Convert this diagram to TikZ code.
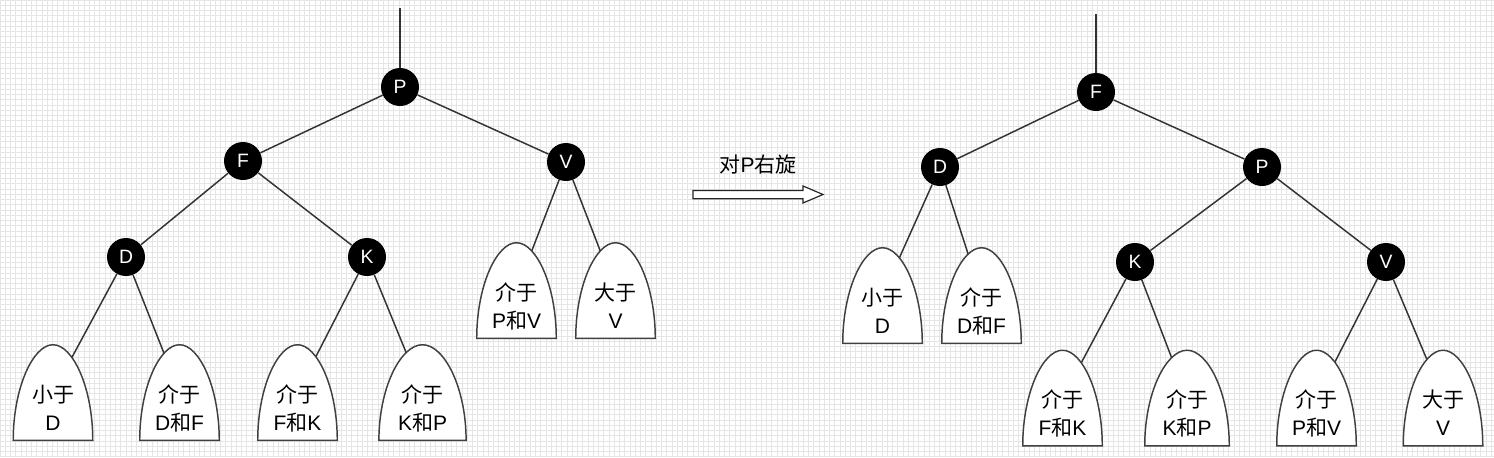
\documentclass[tikz,border=0pt]{standalone}
\usepackage{fontspec}
\setmainfont{Liberation Sans}
\newfontfamily\cjk{Noto Sans CJK SC}
\usetikzlibrary{calc}

\pgfdeclarelayer{grid}
\pgfdeclarelayer{edges}
\pgfdeclarelayer{arches}
\pgfsetlayers{grid,edges,arches,main}

\tikzset{
	keynode/.style={circle,fill=black,text=white,minimum size=28.5pt,inner sep=0pt,
		font=\fontsize{14.5pt}{17pt}\selectfont},
	leafnode/.style={minimum width=59.25pt,minimum height=71.25pt,inner sep=0pt,align=center,
		text height=56.25pt,text depth=0pt,font=\fontsize{15.75pt}{21pt}\selectfont},
	treeline/.style={draw=black!80,line width=1.1pt},
	leafline/.style={draw=black!75,fill=white,line width=1.1pt},
	gridline/.style={draw=black!10,line width=0.4pt},
	blockarrow/.style={draw=black!85,fill=white,line width=0.9pt,line join=miter},
}

\begin{document}
\begin{tikzpicture}[x=0.75pt,y=-0.75pt]
\useasboundingbox (0,0) rectangle (1494,457);
\begin{pgfonlayer}{grid}
\fill[white] (0,0) rectangle (1494,457);
\foreach \gx in {0,5.25,...,1494} \draw[gridline] (\gx,0) -- (\gx,457);
\foreach \gy in {0,5.25,...,457} \draw[gridline] (0,\gy) -- (1494,\gy);
\end{pgfonlayer}

% before
\coordinate (ltop) at (400,8);
\node[keynode] (lP) at (400,87) {P};
\node[keynode] (lF) at (243,161) {F};
\node[keynode] (lV) at (566,162) {V};
\node[keynode] (lD) at (126,257) {D};
\node[keynode] (lK) at (367,257) {K};
\node[leafnode] (lLessD) at (53,392.5) {{\cjk 小于}\\D};
\node[leafnode] (lDF) at (179.5,392.5) {{\cjk 介于}\\D{\cjk 和}F};
\node[leafnode] (lFK) at (297.5,392.5) {{\cjk 介于}\\F{\cjk 和}K};
\node[leafnode,minimum width=65pt] (lKP) at (422.5,392.5) {{\cjk 介于}\\K{\cjk 和}P};
\node[leafnode] (lPV) at (516.5,290.5) {{\cjk 介于}\\P{\cjk 和}V};
\node[leafnode] (lMoreV) at (615.5,290.5) {{\cjk 大于}\\V};

% rotation
\draw[blockarrow] (693,190.5) -- (803,190.5) -- (803,186) -- (823,194.5) -- (803,203) -- (803,198.8) -- (693,198.8) -- cycle;
\node[font=\fontsize{15.75pt}{19pt}\selectfont] (rotlabel) at (758,165) {{\cjk 对}P{\cjk 右旋}};

% after
\coordinate (rtop) at (1096,14);
\node[keynode] (rF) at (1096,92) {F};
\node[keynode] (rD) at (940,167) {D};
\node[keynode] (rP) at (1262,167) {P};
\node[keynode] (rK) at (1135,262) {K};
\node[keynode] (rV) at (1386,262) {V};
\node[leafnode] (rLessD) at (882.5,295.5) {{\cjk 小于}\\D};
\node[leafnode] (rDF) at (981.5,295.5) {{\cjk 介于}\\D{\cjk 和}F};
\node[leafnode] (rFK) at (1062.5,398) {{\cjk 介于}\\F{\cjk 和}K};
\node[leafnode,minimum width=63pt] (rKP) at (1187,398) {{\cjk 介于}\\K{\cjk 和}P};
\node[leafnode] (rPV) at (1316.5,398) {{\cjk 介于}\\P{\cjk 和}V};
\node[leafnode] (rMoreV) at (1443,398) {{\cjk 大于}\\V};

\begin{pgfonlayer}{edges}
\draw[treeline] (ltop) -- (lP);
\draw[treeline] (lP) -- (lF);
\draw[treeline] (lP) -- (lV);
\draw[treeline] (lF) -- (lD);
\draw[treeline] (lF) -- (lK);
\draw[treeline] (lD) -- (lLessD.center);
\draw[treeline] (lD) -- (lDF.center);
\draw[treeline] (lK) -- (lFK.center);
\draw[treeline] (lK) -- (lKP.center);
\draw[treeline] (lV) -- (lPV.center);
\draw[treeline] (lV) -- (lMoreV.center);
\draw[treeline] (rtop) -- (rF);
\draw[treeline] (rF) -- (rD);
\draw[treeline] (rF) -- (rP);
\draw[treeline] (rP) -- (rK);
\draw[treeline] (rP) -- (rV);
\draw[treeline] (rD) -- (rLessD.center);
\draw[treeline] (rD) -- (rDF.center);
\draw[treeline] (rK) -- (rFK.center);
\draw[treeline] (rK) -- (rKP.center);
\draw[treeline] (rV) -- (rPV.center);
\draw[treeline] (rV) -- (rMoreV.center);
\end{pgfonlayer}

\begin{pgfonlayer}{arches}
\foreach \n in {lLessD,lDF,lFK,lKP,lPV,lMoreV,rLessD,rDF,rFK,rKP,rPV,rMoreV}
	\draw[leafline] (\n.south west)
		.. controls ($(\n.south west)!0.55!(\n.north west)$) and ($(\n.north west)!0.5!(\n.north)$) .. (\n.north)
		.. controls ($(\n.north east)!0.5!(\n.north)$) and ($(\n.south east)!0.55!(\n.north east)$) .. (\n.south east)
		-- cycle;
\end{pgfonlayer}
\end{tikzpicture}
\end{document}
